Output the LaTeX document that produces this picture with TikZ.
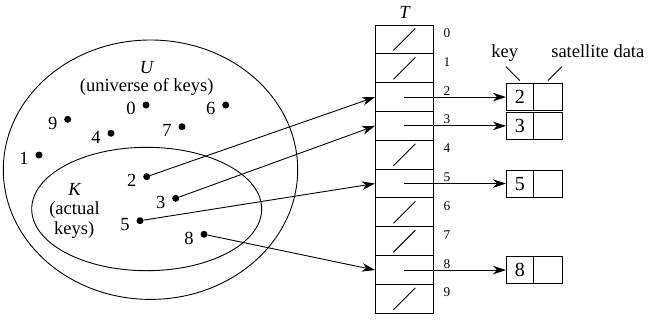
\documentclass[tikz,border=0pt]{standalone}
\usepackage{fontspec}
\setmainfont{Liberation Serif}
\usetikzlibrary{arrows.meta}
\begin{document}
\begin{tikzpicture}[x=1pt,y=-1pt,
  cell/.style={draw, line width=1pt, minimum width=57.8pt, minimum height=28.83pt, inner sep=0pt},
  kcell/.style={draw, line width=1pt, minimum width=27.5pt, minimum height=27pt, inner sep=0pt, outer sep=0pt, font=\fontsize{20}{22}\selectfont},
  scell/.style={draw, line width=1pt, minimum width=29pt, minimum height=27pt, inner sep=0pt, outer sep=0pt},
  dot/.style={circle, fill, inner sep=0pt, minimum size=7pt},
  lbl/.style={font=\fontsize{18.5}{20}\selectfont, inner sep=0pt},
  idx/.style={font=\fontsize{13.3}{15}\selectfont, inner sep=0pt},
  arr/.style={-{Stealth[length=13pt,width=8.5pt,inset=4pt]}, line width=0.9pt},
  thinline/.style={line width=0.9pt}]
\useasboundingbox (0,0) rectangle (661,335);

% ellipses
\draw[thinline] (150.5,169.7) ellipse [x radius=147.2pt, y radius=129.7pt];
\draw[thinline] (146.7,209) ellipse [x radius=115pt, y radius=61.7pt];

% texts in ellipses
\node[lbl] (ulbl) at (147,67.5) {\textit{U}};
\node[lbl] (udesc) at (146.7,86.7) {(universe of keys)};
\node[lbl] (klbl) at (75,189.5) {\textit{K}};
\node[lbl] (kdesc1) at (74.5,210) {(actual};
\node[lbl] (kdesc2) at (74.2,230) {keys)};

% dots and their labels
\foreach \k/\x/\y in {0/146/105, 6/225.7/105, 9/67.7/119.3, 7/182/126.7, 4/111/133.3,
                      1/39/155, 2/146.7/176.7, 3/175.7/198.3, 5/140/220.7, 8/204/234.3} {
  \node[dot] (d\k) at (\x,\y) {};
  \node[lbl] (l\k) at ([shift={(-15,3.7)}]d\k.center) {\k};
}

% table
\node[lbl] (tlbl) at (405,12) {\textit{T}};
\foreach \i in {0,...,9} {
  \node[cell] (r\i) at (404.4,{25+28.83*(\i+0.5)}) {};
  \node[idx] (n\i) at ([shift={(42.6,-6.3)}]r\i.center) {\i};
}
\foreach \i in {0,1,4,6,7,9} {
  \draw[thinline] ([shift={(-11,11)}]r\i.center) -- ([shift={(11,-11)}]r\i.center);
}

% data boxes
\coordinate (kx) at (533.5,0);
\foreach \i in {2,3,5,8} {
  \node[kcell, anchor=east] (k\i) at (r\i.center -| kx) {\i};
  \node[scell, anchor=west] (s\i) at (k\i.east) {};
  \draw[arr] (r\i.center) -- (k\i.west);
  \draw[arr] (d\i) -- (r\i.west);
}

% key / satellite data labels
\node[lbl, anchor=base] (keylbl) at (504.7,57.7) {key};
\node[lbl, anchor=base] (satlbl) at (597.8,57.7) {satellite data};
\coordinate (ka) at (506,66.7);
\coordinate (sa) at (561.7,66.7);
\draw[thinline] (ka) -- ([yshift=3pt]k2.north);
\draw[thinline] (sa) -- ([yshift=3pt]s2.north);
\end{tikzpicture}
\end{document}
